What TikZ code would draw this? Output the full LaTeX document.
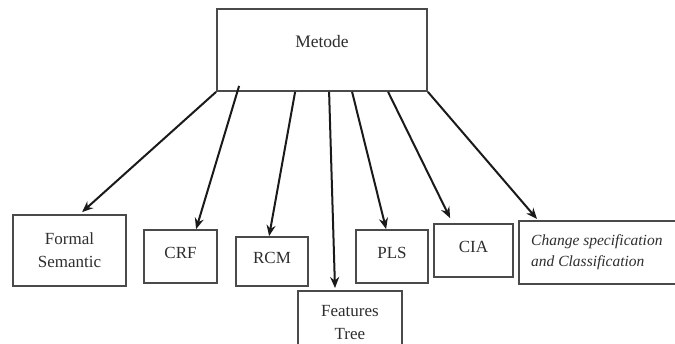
\documentclass[tikz,border=0pt]{standalone}
\usepackage{fontspec}
\setmainfont{LiberationSerif}[Extension=.ttf,UprightFont=*-Regular,ItalicFont=*-Italic,BoldFont=*-Bold,BoldItalicFont=*-BoldItalic]
\usetikzlibrary{arrows.meta}
\definecolor{boxline}{HTML}{4A4A4A}
\definecolor{arrline}{HTML}{1A1A1A}
\definecolor{txt}{HTML}{2E2E2E}
\begin{document}
\begin{tikzpicture}[x=1pt,y=-1pt,
  box/.style={draw=boxline,line width=1.8pt,fill=white,inner sep=0pt,text=txt,
    align=center,font=\fontsize{17}{23}\selectfont},
  single/.style={text depth=8pt},
  conn/.style={draw=arrline,line width=2pt,-{Stealth[length=11pt,width=9pt]}}]
\useasboundingbox[fill=white] (0,0) rectangle (675,344);
% top box
\node[box,minimum width=210pt,minimum height=82pt] (m) at (322,50) {};
\node[text=txt,font=\fontsize{17.5}{23}\selectfont] (mt) at (322,42) {Metode};
% bottom boxes
\node[box,minimum width=113pt,minimum height=71pt] (fs) at (69.5,250.5) {Formal\\Semantic};
\node[box,single,minimum width=73pt,minimum height=53pt] (crf) at (180.5,256.5) {CRF};
\node[box,single,minimum width=72pt,minimum height=49pt] (rcm) at (272,261.5) {RCM};
\node[box,minimum width=104pt,minimum height=64pt,anchor=north west] (ft) at (297,290) {Features\\Tree};
\node[box,single,minimum width=72pt,minimum height=53pt] (pls) at (392,256.5) {PLS};
\node[box,single,minimum width=79pt,minimum height=53pt] (cia) at (473.5,250.5) {CIA};
\node[box,minimum width=160pt,minimum height=63pt,anchor=north west] (chg) at (518,220) {};
\node[text=txt,anchor=west,align=left,inner sep=0pt,
  font=\fontsize{15.5}{21}\selectfont\itshape] (chgt) at (531,252.5)
  {Change specification\\and Classification};
% start points on the bottom of Metode
\coordinate (s1) at (m.south west);
\coordinate (s2) at ([shift={(23,-6)}]m.south west);
\coordinate (s3) at ([xshift=79]m.south west);
\coordinate (s4) at ([xshift=113]m.south west);
\coordinate (s5) at ([xshift=136]m.south west);
\coordinate (s6) at ([xshift=172]m.south west);
\coordinate (s7) at (m.south east);
% arrows
\draw[conn] (s1) -- ([shift={(70,-2)}]fs.north west);
\draw[conn] (s2) -- ([xshift=53]crf.north west);
\draw[conn] (s3) -- ([xshift=34]rcm.north west);
\draw[conn] (s4) -- ([shift={(38,-2)}]ft.north west);
\draw[conn] (s5) -- ([xshift=31]pls.north west);
\draw[conn] (s6) -- ([shift={(17,-5)}]cia.north west);
\draw[conn] (s7) -- ([shift={(19,-1)}]chg.north west);
\end{tikzpicture}
\end{document}
